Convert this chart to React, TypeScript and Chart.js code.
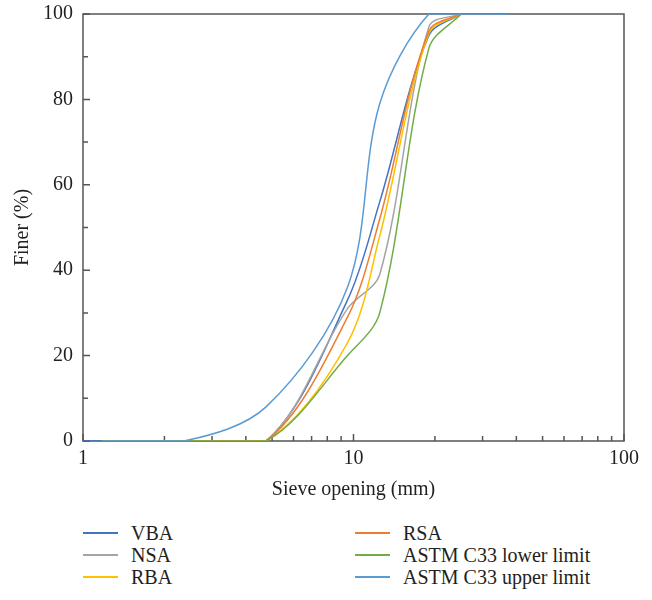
import React, { useEffect, useRef } from "react";
import { Chart, registerables } from "chart.js";

Chart.register(...registerables);

// Sieve openings (mm)
const vbaSieves = [1, 2.36, 4.75, 9.5, 12.5, 19, 25];
const materialSieves = [1.18, 2.36, 4.75, 9.5, 12.5, 19, 25];
const upperSieves = [1.18, 2.36, 4.75, 9.5, 12.5, 19, 25, 37.5];

// Percent finer
const vba = [0, 0, 0, 33, 56, 95, 100];
const nsa = [0, 0, 0, 31, 39, 97, 100];
const rba = [0, 0, 0, 23, 48, 95.5, 100];
const rsa = [0, 0, 0, 29, 52, 96, 100];
const lowerLimit = [0, 0, 0, 20, 30, 92, 100];
const upperLimit = [0, 0, 8, 36, 79, 100, 100, 100];

const seriesNames = ["VBA", "NSA", "RBA", "RSA", "ASTM C33 lower limit", "ASTM C33 upper limit"];
const seriesColors = ["#4472C4", "#A5A5A5", "#FFC000", "#ED7D31", "#70AD47", "#5B9BD5"];

const xMajorTicks = [1, 10, 100];
const xMinorTicks = [2, 3, 4, 5, 6, 7, 8, 9, 20, 30, 40, 50, 60, 70, 80, 90];
const yMajorTicks = [0, 20, 40, 60, 80, 100];
const yMinorTicks = [10, 30, 50, 70, 90];

const FONT = "'Liberation Serif', 'Times New Roman', serif";
const FONT_SIZE = 20;
const TEXT = "#231f20";
const AXIS = "#555555";

const toPoints = (xs: number[], ys: number[]) => xs.map((x, i) => ({ x, y: ys[i] }));

const framePlugin = {
  id: "frameTicks",
  beforeDatasetsDraw(chart: any) {
    const { ctx, chartArea, scales } = chart;
    const { left, right, top, bottom } = chartArea;
    const x = scales.x;
    const y = scales.y;
    ctx.save();
    ctx.strokeStyle = AXIS;
    ctx.lineWidth = 1.5;
    ctx.strokeRect(left, top, right - left, bottom - top);
    ctx.beginPath();
    xMajorTicks.forEach((v) => {
      const px = x.getPixelForValue(v);
      ctx.moveTo(px, bottom);
      ctx.lineTo(px, bottom - 7);
    });
    xMinorTicks.forEach((v) => {
      const px = x.getPixelForValue(v);
      ctx.moveTo(px, bottom);
      ctx.lineTo(px, bottom - 5);
    });
    yMajorTicks.forEach((v) => {
      const py = y.getPixelForValue(v);
      ctx.moveTo(left, py);
      ctx.lineTo(left + 7, py);
    });
    yMinorTicks.forEach((v) => {
      const py = y.getPixelForValue(v);
      ctx.moveTo(left, py);
      ctx.lineTo(left + 5, py);
    });
    ctx.stroke();
    ctx.restore();
  },
};

export default function App() {
  const canvasRef = useRef<HTMLCanvasElement | null>(null);

  useEffect(() => {
    const canvas = canvasRef.current;
    if (!canvas) return;
    const sieveSets = [vbaSieves, materialSieves, materialSieves, materialSieves, materialSieves, upperSieves];
    const values = [vba, nsa, rba, rsa, lowerLimit, upperLimit];
    const datasets = values.map((vals, i) => ({
      label: seriesNames[i],
      data: toPoints(sieveSets[i], vals),
      borderColor: seriesColors[i],
      backgroundColor: seriesColors[i],
      borderWidth: 1.5,
      pointRadius: 0,
      tension: 0.33,
      fill: false,
      order: values.length - i,
    }));

    const chart = new Chart(canvas, {
      type: "line",
      data: { datasets } as any,
      plugins: [framePlugin],
      options: {
        animation: false,
        responsive: false,
        maintainAspectRatio: false,
        devicePixelRatio: 1,
        layout: { padding: { left: 0, right: 28, top: 14, bottom: 0 } },
        plugins: {
          legend: { display: false },
          tooltip: { enabled: false },
        },
        scales: {
          x: {
            type: "logarithmic",
            min: 1,
            max: 100,
            afterBuildTicks: (scale: any) => {
              scale.ticks = xMajorTicks.map((v) => ({ value: v }));
            },
            afterFit: (scale: any) => {
              scale.height = 69;
              scale.paddingLeft = 0;
              scale.paddingRight = 0;
            },
            grid: { display: false, drawTicks: false },
            border: { display: false },
            ticks: {
              autoSkip: false,
              maxRotation: 0,
              padding: 6,
              color: TEXT,
              font: { family: FONT, size: FONT_SIZE },
              callback: (v: any) => String(v),
            },
            title: {
              display: true,
              text: "Sieve opening (mm)",
              color: TEXT,
              font: { family: FONT, size: FONT_SIZE },
              padding: { top: 0, bottom: 8 },
            },
          },
          y: {
            type: "linear",
            min: 0,
            max: 100,
            afterFit: (scale: any) => {
              scale.width = 83;
              scale.paddingTop = 0;
              scale.paddingBottom = 0;
            },
            grid: { display: false, drawTicks: false },
            border: { display: false },
            ticks: {
              stepSize: 20,
              padding: 10,
              color: TEXT,
              font: { family: FONT, size: FONT_SIZE },
            },
            title: {
              display: true,
              text: "Finer (%)",
              color: TEXT,
              font: { family: FONT, size: FONT_SIZE },
              padding: { top: 11, bottom: 0 },
            },
          },
        },
      },
    });
    return () => chart.destroy();
  }, []);

  const rows = [
    [0, 3],
    [1, 4],
    [2, 5],
  ];

  return (
    <div style={{ position: "absolute", left: 0, top: 0, width: 652, height: 600, background: "#fff" }}>
      <canvas ref={canvasRef} width={652} height={510} style={{ display: "block", width: 652, height: 510 }} />
      {rows.map((pair, r) =>
        pair.map((idx, c) => (
          <div
            key={idx}
            style={{
              position: "absolute",
              left: c === 0 ? 83 : 355,
              top: 533 + r * 22 - 12,
              height: 24,
              display: "flex",
              alignItems: "center",
              fontFamily: FONT,
              fontSize: FONT_SIZE,
              color: TEXT,
              whiteSpace: "nowrap",
            }}
          >
            <span style={{ display: "inline-block", width: 35, height: 2, background: seriesColors[idx], marginRight: 13 }} />
            <span>{seriesNames[idx]}</span>
          </div>
        ))
      )}
    </div>
  );
}
